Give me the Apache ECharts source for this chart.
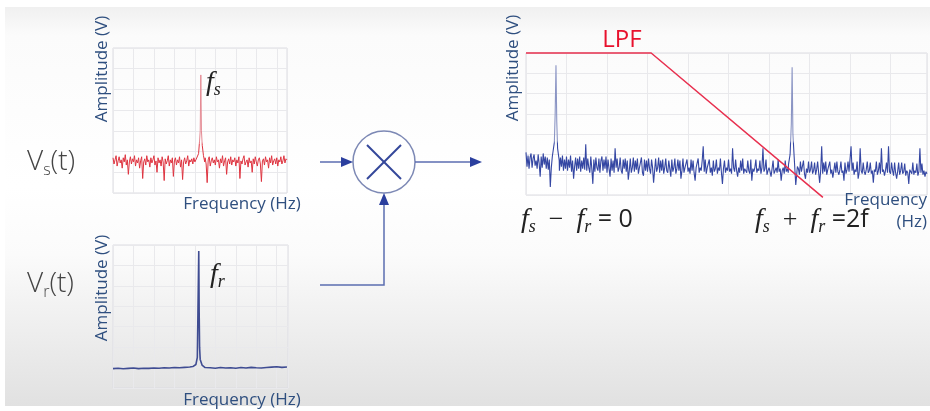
<!DOCTYPE html>
<html>
<head>
<meta charset="utf-8">
<style>
  html, body { margin: 0; padding: 0; background: #ffffff; }
  #chart { width: 930px; height: 411px; }
</style>
<script src="https://cdn.jsdelivr.net/npm/echarts@6/dist/echarts.min.js"></script>
</head>
<body>
<div id="chart"></div>
<script>
// ---- Spectrum data -------------------------------------------------------
// Signal spectrum V_s(t): noise floor sampled every 0.05 frequency units
const sigStep = 0.05;
const sigNoise = [
  1.7, 1.4, 1.6, 1.8, 1.3, 1.55, 1.75, 1.45, 1.6, 1.2, 1.7, 1.5, 1.85, 1.35, 1.6, 0.9, 1.5, 1.75, 1.4, 1.65,
  1.5, 1.8, 1.3, 1.6, 1.45, 1.7, 1.2, 1.55, 1.75, 0.7, 1.5, 1.65, 1.35, 1.8, 1.5, 1.6, 1.25, 1.7, 1.45, 1.6,
  1.8, 1.35, 1.55, 1.0, 1.7, 1.45, 1.6, 1.3, 1.75, 1.5, 0.6, 1.65, 1.4, 1.55, 1.8, 1.3, 1.6, 1.45, 1.7, 0.8,
  1.55, 1.7, 1.35, 1.6, 1.45, 1.75, 1.25, 1.6, 0.65, 1.5, 1.7, 1.4, 1.55, 1.8, 1.3, 1.6, 1.5, 1.65, 1.4, 1.7,
  1.5, 1.6, 1.55, 1.5, 1.5, 1.5, 1.5, 1.5, 1.5, 1.5, 1.7, 1.4, 0.5, 1.6, 1.75, 1.3, 1.55, 1.7, 1.45, 1.6,
  1.35, 1.75, 1.5, 1.6, 1.2, 1.65, 1.45, 1.8, 1.3, 1.55, 1.7, 0.9, 1.5, 1.65, 1.4, 1.75, 1.35, 1.6, 1.5, 1.7,
  1.3, 1.6, 1.45, 1.75, 0.7, 1.55, 1.4, 1.65, 1.8, 1.35, 1.5, 1.6, 1.25, 1.7, 1.45, 1.55, 1.0, 1.65, 1.4, 1.75,
  1.5, 1.3, 1.6, 1.7, 1.4, 0.55, 1.55, 1.65, 1.35, 1.75, 1.5, 1.6, 1.2, 1.7, 1.45, 1.8, 1.35, 1.55, 1.65, 1.4,
  1.7, 1.3, 1.6, 1.5, 1.75, 1.4, 1.55, 1.8, 1.45, 1.65, 1.6
];
// the f_s line
const sigPeakFreq = [4.12, 4.18, 4.22, 4.26, 4.29, 4.32, 4.36, 4.42, 4.48];
const sigPeakAmp  = [1.6, 1.9, 2.4, 3.0, 5.7, 3.0, 2.3, 1.8, 1.5];

// Reference spectrum V_r(t): clean floor sampled every 0.25 units
const refStep = 0.25;
const refNoise = [
  0.95, 0.97, 0.94, 0.96, 0.98, 0.95, 0.97, 0.96, 0.98, 0.97,
  0.99, 0.98, 1.0, 0.99, 1.01, 1.03, 1.0, 1.0, 0.98, 0.99,
  0.97, 1.0, 0.98, 0.99, 0.97, 1.0, 0.98, 1.01, 0.99, 0.98,
  1.0, 1.02, 1.04, 1.01, 1.03
];
// the f_r line
const refPeakFreq = [3.9, 4.05, 4.12, 4.15, 4.17, 4.19, 4.21, 4.23, 4.26, 4.35, 4.5];
const refPeakAmp  = [1.05, 1.15, 1.5, 3.7, 5.2, 6.7, 3.7, 2.0, 1.4, 1.12, 1.0];

// Mixer output spectrum: noise floor sampled every 0.025 units
const mixStep = 0.025;
const mixNoise = [
  2.1, 1.4, 1.95, 1.3, 1.85, 2.05, 1.35, 1.8, 2.0, 1.45, 1.7, 1.3, 2.0, 1.55, 0.9, 1.9, 1.35, 2.05, 1.5, 1.9,
  1.3, 1.85, 1.25, 1.75, 0.4, 1.35, 1.9, 1.6, 1.6, 1.6, 1.6, 1.6, 1.6, 1.2, 1.85, 1.4, 1.95, 1.2, 1.75, 1.3,
  1.9, 1.2, 1.75, 1.35, 1.95, 1.15, 1.7, 0.8, 1.4, 1.85, 1.2, 1.8, 1.3, 1.9, 1.15, 1.7, 1.3, 1.85, 1.25, 2.5,
  1.2, 1.8, 1.35, 1.1, 1.9, 1.3, 0.55, 1.75, 1.15, 1.85, 1.35, 1.2, 1.8, 1.1, 1.7, 1.9, 1.2, 1.75, 1.3, 1.9,
  1.1, 1.75, 1.3, 0.9, 1.8, 1.2, 1.7, 1.1, 2.3, 1.35, 1.8, 1.15, 1.35, 1.85, 1.2, 1.05, 1.75, 1.3, 1.8, 1.15,
  1.7, 0.75, 1.2, 1.8, 1.1, 1.35, 1.85, 1.15, 1.7, 1.25, 1.8, 1.05, 1.35, 1.3, 1.85, 1.1, 0.95, 1.75, 1.2, 1.7,
  1.15, 1.8, 1.3, 1.05, 1.75, 1.35, 0.6, 1.2, 1.8, 1.15, 1.35, 1.85, 1.1, 1.7, 1.2, 1.75, 1.05, 1.35, 1.8, 1.2,
  1.1, 1.7, 1.3, 0.9, 1.75, 1.15, 1.35, 1.8, 1.05, 1.3, 1.75, 1.2, 1.7, 0.8, 1.2, 1.8, 1.1, 1.35, 1.3, 1.75,
  1.15, 1.35, 1.05, 1.75, 1.2, 1.7, 1.1, 0.7, 1.35, 1.3, 1.8, 1.1, 1.35, 1.2, 1.7, 2.4, 1.15, 1.75, 1.05, 1.35,
  1.3, 1.75, 1.1, 1.35, 0.95, 1.7, 1.15, 1.3, 1.75, 1.05, 1.35, 1.2, 1.8, 1.1, 0.55, 1.3, 1.7, 1.1, 1.35, 1.2,
  1.75, 1.15, 1.3, 1.05, 2.3, 1.35, 1.15, 1.75, 1.2, 0.9, 1.35, 1.1, 1.7, 1.2, 1.8, 1.05, 1.3, 1.35, 1.1, 1.7,
  1.2, 1.05, 1.75, 0.7, 1.3, 1.15, 1.35, 1.75, 1.1, 1.3, 1.2, 1.7, 1.05, 1.35, 2.3, 1.15, 1.3, 1.75, 1.0, 1.2,
  1.35, 1.15, 0.9, 1.3, 1.7, 1.05, 1.2, 1.35, 1.1, 1.75, 1.15, 1.3, 0.7, 1.2, 1.35, 1.05, 1.7, 1.15, 1.3, 1.1,
  1.4, 1.4, 1.4, 1.4, 1.4, 1.4, 1.4, 1.4, 1.4, 1.3, 1.0, 1.65, 1.15, 1.2, 1.7, 1.05, 0.8, 1.3, 1.1, 1.65,
  1.1, 1.25, 1.65, 1.05, 1.2, 1.6, 1.0, 1.25, 1.65, 1.1, 0.6, 1.2, 2.4, 1.05, 1.6, 1.15, 1.65, 1.0, 1.25, 1.2,
  1.65, 1.05, 1.25, 0.85, 1.2, 1.6, 1.1, 1.65, 1.15, 1.0, 1.25, 1.65, 1.1, 1.2, 0.7, 1.6, 1.05, 1.25, 1.65, 1.15,
  1.1, 2.4, 1.2, 1.6, 1.0, 1.25, 1.15, 1.65, 0.8, 1.1, 2.3, 1.2, 1.05, 1.6, 1.15, 1.0, 1.25, 1.65, 1.1, 1.2,
  1.6, 1.05, 1.2, 0.6, 1.25, 1.15, 1.65, 1.0, 1.2, 1.6, 1.05, 2.3, 1.15, 1.25, 0.95, 1.2, 1.6, 1.1, 2.4, 1.15,
  1.05, 1.6, 1.2, 0.95, 1.6, 1.1, 0.8, 1.15, 1.6, 1.0, 1.2, 1.6, 1.05, 1.15, 1.55, 0.95, 1.2, 1.1, 0.55, 1.25,
  1.15, 1.05, 1.6, 1.0, 1.2, 1.1, 1.55, 0.95, 1.15, 2.3, 1.1, 1.55, 1.0, 1.2, 0.9, 1.15, 1.05
];
// difference-frequency line (fs - fr)
const diffPeakFreq = [0.66, 0.70, 0.72, 0.74, 0.76, 0.78, 0.82];
const diffPeakAmp  = [1.9, 2.6, 4.0, 6.4, 3.6, 2.3, 1.7];
// sum-frequency line (fs + fr)
const sumPeakFreq = [6.48, 6.52, 6.55, 6.57, 6.59, 6.62, 6.66, 6.70];
const sumPeakAmp  = [1.5, 2.0, 3.5, 6.3, 3.0, 1.9, 0.5, 1.4];

// Low-pass filter response drawn over the mixer output
const lpfFreq = [0, 3.09, 7.33];
const lpfGain = [7, 7, -0.12];

// ---- Layout --------------------------------------------------------------
const ampMax = 7;
const gridSig = { left: 113, top: 48, width: 174, height: 145 };
const gridRef = { left: 113, top: 245, width: 175, height: 143 };
const gridMix = { left: 526, top: 53, width: 401, height: 142 };

// ---- Helpers -------------------------------------------------------------
// merge a uniformly sampled noise floor with one or more spectral lines
function spectrum(noise, step, peaks) {
  const pts = [];
  noise.forEach(function (v, i) {
    const x = +(i * step).toFixed(3);
    const inside = peaks.some(function (p) {
      return x >= p[0][0] && x <= p[0][p[0].length - 1];
    });
    if (!inside) pts.push([x, v]);
  });
  peaks.forEach(function (p) {
    p[0].forEach(function (x, i) { pts.push([x, p[1][i]]); });
  });
  pts.sort(function (a, b) { return a[0] - b[0]; });
  return pts;
}
// stroke that turns paler above a given amplitude (tall spectral lines)
function tint(g, threshold, pale, solid) {
  const f = 1 - threshold / ampMax;
  return new echarts.graphic.LinearGradient(0, g.top, 0, g.top + g.height, [
    { offset: 0, color: pale }, { offset: f - 0.01, color: pale },
    { offset: f + 0.01, color: solid }, { offset: 1, color: solid }], true);
}

const gridLine = { show: true, lineStyle: { color: '#e9e9ec', width: 1 } };
function xAx(idx, max) {
  return {
    type: 'value', gridIndex: idx, min: 0, max: max, interval: 1,
    axisLine: { show: false }, axisTick: { show: false }, axisLabel: { show: false },
    splitLine: gridLine
  };
}
function yAx(idx) {
  return {
    type: 'value', gridIndex: idx, min: 0, max: ampMax, interval: 1,
    axisLine: { show: false }, axisTick: { show: false }, axisLabel: { show: false },
    splitLine: gridLine
  };
}
function gridBox(g) {
  return Object.assign({ show: true, borderColor: '#dddde2', borderWidth: 1 }, g);
}

// ---- Diagram geometry (mixer block) ----------------------------------------
const mixer = { cx: 384, cy: 162, r: 31, arm: 17 };
const wireColor = '#5b6db0';
const headColor = '#2b3f9e';
const axisTitleColor = '#2f4f7f';
const sans = '"Open Sans", "Noto Sans", sans-serif';
const serif = '"Liberation Serif", "DejaVu Serif", serif';

function arrowHead(tipX, tipY, dir) {
  // dir: 'right' or 'up'
  const pts = dir === 'right'
    ? [[tipX - 12, tipY - 5], [tipX, tipY], [tipX - 12, tipY + 5]]
    : [[tipX - 5, tipY + 12], [tipX, tipY], [tipX + 5, tipY + 12]];
  return { type: 'polygon', shape: { points: pts }, style: { fill: headColor }, z: 5 };
}
function wire(points) {
  return { type: 'polyline', shape: { points: points },
           style: { stroke: wireColor, lineWidth: 1.5, fill: null }, z: 5 };
}
function label(x, y, text, style, extra) {
  return Object.assign({ type: 'text', x: x, y: y, z: 6,
    style: Object.assign({ text: text }, style) }, extra || {});
}
const titleFont = '17px ' + sans;
function axisTitleV(x, y, text) {
  return label(x, y, text, { font: titleFont, fill: axisTitleColor,
    textAlign: 'center', textVerticalAlign: 'middle' }, { rotation: Math.PI / 2 });
}
function axisTitleH(x, y, text) {
  return label(x, y, text, { font: titleFont, fill: axisTitleColor,
    textAlign: 'center', textVerticalAlign: 'middle' });
}
// italic f with subscript, optional plain tail
const mathRich = {
  f:   { fontFamily: serif, fontStyle: 'italic', fontSize: 28, lineHeight: 32, verticalAlign: 'middle', fill: '#222' },
  sub: { fontFamily: serif, fontStyle: 'italic', fontSize: 18, lineHeight: 15, verticalAlign: 'bottom', fill: '#222' },
  op:  { fontFamily: serif, fontSize: 26, lineHeight: 32, verticalAlign: 'middle', fill: '#222' },
  n:   { fontFamily: sans, fontSize: 25, lineHeight: 32, verticalAlign: 'middle', fill: '#222' }
};
const vRich = {
  v:   { fontFamily: sans, fontWeight: 300, fontSize: 28, lineHeight: 32, verticalAlign: 'middle', fill: '#444' },
  sub: { fontFamily: sans, fontWeight: 300, fontSize: 16, lineHeight: 12, verticalAlign: 'bottom', fill: '#444' }
};
function rich(x, y, text, r) {
  return { type: 'text', x: x, y: y, z: 6,
    style: { text: text, rich: r, textAlign: 'left', textVerticalAlign: 'middle' } };
}

// ---- Chart ---------------------------------------------------------------
const chart = echarts.init(document.getElementById('chart'), null, { renderer: 'canvas' });

const option = {
  animation: false,
  backgroundColor: '#ffffff',
  grid: [gridBox(gridSig), gridBox(gridRef), gridBox(gridMix)],
  xAxis: [xAx(0, 8.5), xAx(1, 8.55), xAx(2, 9.9)],
  yAxis: [yAx(0), yAx(1), yAx(2)],
  series: [
    {
      type: 'line', xAxisIndex: 0, yAxisIndex: 0, showSymbol: false, symbol: 'none',
      lineStyle: { color: tint(gridSig, 2.4, '#e48a93', '#de3440'), width: 1 },
      data: spectrum(sigNoise, sigStep, [[sigPeakFreq, sigPeakAmp]])
    },
    {
      type: 'line', xAxisIndex: 1, yAxisIndex: 1, showSymbol: false, symbol: 'none',
      lineStyle: { color: '#3f4c92', width: 1.6 },
      data: spectrum(refNoise, refStep, [[refPeakFreq, refPeakAmp]])
    },
    {
      type: 'line', xAxisIndex: 2, yAxisIndex: 2, showSymbol: false, symbol: 'none',
      lineStyle: { color: tint(gridMix, 2.6, '#8b95c4', '#3547a3'), width: 1.1 },
      data: spectrum(mixNoise, mixStep, [[diffPeakFreq, diffPeakAmp], [sumPeakFreq, sumPeakAmp]])
    },
    {
      type: 'line', xAxisIndex: 2, yAxisIndex: 2, showSymbol: false, symbol: 'none', clip: false,
      lineStyle: { color: '#e8304f', width: 1.5 }, z: 4,
      data: lpfFreq.map(function (f, i) { return [f, lpfGain[i]]; })
    }
  ],
  graphic: [
    // slide backdrop
    { type: 'rect', z: -10, silent: true,
      shape: { x: 5, y: 7, width: 925, height: 399 },
      style: { fill: new echarts.graphic.LinearGradient(0, 0, 0, 1, [
        { offset: 0, color: '#f0f0f0' }, { offset: 0.07, color: '#fbfbfb' },
        { offset: 0.45, color: '#ffffff' }, { offset: 0.62, color: '#fbfbfb' },
        { offset: 1, color: '#e1e1e1' }]) } },

    // axis titles
    axisTitleV(102, 69, 'Amplitude (V)'),
    axisTitleV(102, 288, 'Amplitude (V)'),
    axisTitleV(513, 68, 'Amplitude (V)'),
    axisTitleH(242, 204, 'Frequency (Hz)'),
    axisTitleH(242, 400, 'Frequency (Hz)'),
    label(927, 211, 'Frequency\n(Hz)', { font: titleFont, fill: axisTitleColor,
      textAlign: 'right', textVerticalAlign: 'middle', lineHeight: 22 }),

    // spectral line annotations
    rich(206, 83, '{f|f}{sub|s}', mathRich),
    rich(210, 275, '{f|f}{sub|r}', mathRich),
    rich(521, 220, '{f|f}{sub|s}{op|  −  }{f|f}{sub|r}{n| = 0}', mathRich),
    rich(755, 220, '{f|f}{sub|s}{op|  +  }{f|f}{sub|r}{n| =2f}', mathRich),
    label(622, 40, 'LPF', { font: '24px ' + sans, fill: '#e8112d',
      textAlign: 'center', textVerticalAlign: 'middle' }),

    // input signal names
    rich(27, 162, '{v|V}{sub|s}{v|(t)}', vRich),
    rich(27, 284, '{v|V}{sub|r}{v|(t)}', vRich),

    // mixer block
    { type: 'circle', z: 5, shape: { cx: mixer.cx, cy: mixer.cy, r: mixer.r },
      style: { stroke: '#7d89b5', lineWidth: 1.5, fill: 'rgba(255,255,255,0.5)' } },
    { type: 'line', z: 5, shape: { x1: mixer.cx - mixer.arm, y1: mixer.cy - mixer.arm,
      x2: mixer.cx + mixer.arm, y2: mixer.cy + mixer.arm }, style: { stroke: '#34479a', lineWidth: 2 } },
    { type: 'line', z: 5, shape: { x1: mixer.cx + mixer.arm, y1: mixer.cy - mixer.arm,
      x2: mixer.cx - mixer.arm, y2: mixer.cy + mixer.arm }, style: { stroke: '#34479a', lineWidth: 2 } },
    wire([[320, mixer.cy], [mixer.cx - mixer.r - 10, mixer.cy]]),
    arrowHead(mixer.cx - mixer.r, mixer.cy, 'right'),
    wire([[mixer.cx + mixer.r, mixer.cy], [472, mixer.cy]]),
    arrowHead(482, mixer.cy, 'right'),
    wire([[320, 285], [mixer.cx, 285], [mixer.cx, mixer.cy + mixer.r + 10]]),
    arrowHead(mixer.cx, mixer.cy + mixer.r, 'up')
  ]
};

chart.setOption(option);
</script>
</body>
</html>
